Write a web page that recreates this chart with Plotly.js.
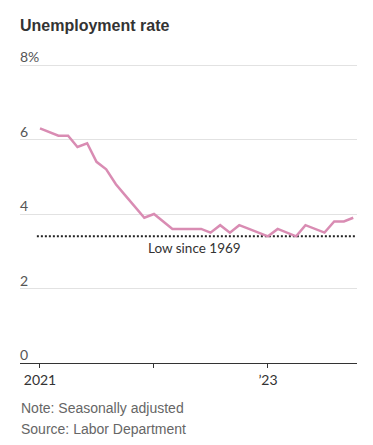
<!DOCTYPE html>
<html>
<head>
<meta charset="utf-8">
<script src="https://cdn.plot.ly/plotly-3.0.1.min.js"></script>
<style>
html,body{margin:0;padding:0;background:#fff;}
#chart{width:373px;height:445px;}
</style>
</head>
<body>
<div id="chart"></div>
<script>
var months = [
  "2021-01-01","2021-02-01","2021-03-01","2021-04-01","2021-05-01","2021-06-01",
  "2021-07-01","2021-08-01","2021-09-01","2021-10-01","2021-11-01","2021-12-01",
  "2022-01-01","2022-02-01","2022-03-01","2022-04-01","2022-05-01","2022-06-01",
  "2022-07-01","2022-08-01","2022-09-01","2022-10-01","2022-11-01","2022-12-01",
  "2023-01-01","2023-02-01","2023-03-01","2023-04-01","2023-05-01","2023-06-01",
  "2023-07-01","2023-08-01","2023-09-01","2023-10-01"
];
var unemploymentRate = [
  6.3, 6.2, 6.1, 6.1, 5.8, 5.9, 5.4, 5.2, 4.8, 4.5, 4.2, 3.9,
  4.0, 3.8, 3.6, 3.6, 3.6, 3.6, 3.5, 3.7, 3.5, 3.7, 3.6, 3.5,
  3.4, 3.6, 3.5, 3.4, 3.7, 3.6, 3.5, 3.8, 3.8, 3.9
];
var lowSince1969 = 3.4;
var lowLineX = ["2020-12-22", "2023-10-08"];
var lowLabel = "Low since 1969";
var lowLabelX = "2022-05-10";
var yTicks = [0, 2, 4, 6, 8];
var yTickLabels = ["0", "2", "4", "6", "8%"];
var xTicks = ["2021-01-01", "2022-01-01", "2023-01-01"];
var xTickLabels = ["2021", "", "\u201923"];

var narrow = "Lato, 'Liberation Sans', sans-serif";
var reg = "'Liberation Sans', Arial, sans-serif";

var traces = [
  {
    x: lowLineX,
    y: [lowSince1969, lowSince1969],
    type: "scatter",
    mode: "lines",
    line: {color: "#222", width: 2, dash: "2px,2px"},
    hoverinfo: "skip"
  },
  {
    x: months,
    y: unemploymentRate,
    type: "scatter",
    mode: "lines",
    line: {color: "#d98cb3", width: 2.5},
    hoverinfo: "skip"
  }
];

var annotations = yTicks.map(function (v, i) {
  return {
    xref: "paper", yref: "y",
    x: 0, y: v,
    xanchor: "left", yanchor: "bottom",
    xshift: -2, yshift: -2,
    text: yTickLabels[i],
    showarrow: false,
    font: {family: narrow, size: 14, color: "#555"}
  };
});

annotations.push(
  {
    x: lowLabelX, y: lowSince1969,
    xref: "x", yref: "y",
    text: lowLabel,
    showarrow: false,
    xanchor: "center", yanchor: "top",
    yshift: -2,
    font: {family: narrow, size: 13.5, color: "#333"}
  },
  {
    xref: "paper", yref: "paper",
    x: 0, y: -(408-363)/313,
    xanchor: "left", yanchor: "middle",
    xshift: -1,
    text: "Note: Seasonally adjusted",
    showarrow: false,
    font: {family: reg, size: 14, color: "#666"}
  },
  {
    xref: "paper", yref: "paper",
    x: 0, y: -(429-363)/313,
    xanchor: "left", yanchor: "middle",
    xshift: -1,
    text: "Source: Labor Department",
    showarrow: false,
    font: {family: reg, size: 14, color: "#666"}
  }
);

var layout = {
  width: 373,
  height: 445,
  margin: {l: 20, r: 16, t: 50, b: 82},
  paper_bgcolor: "#fff",
  plot_bgcolor: "#fff",
  showlegend: false,
  title: {
    text: "<b>Unemployment rate</b>",
    font: {family: reg, size: 16, color: "#333"},
    xref: "container", yref: "container",
    x: 20/373, xanchor: "left",
    y: 1 - 25/445, yanchor: "middle"
  },
  xaxis: {
    type: "date",
    range: ["2020-10-29", "2023-10-13"],
    tickmode: "array",
    tickvals: xTicks,
    ticktext: xTickLabels,
    ticks: "outside",
    ticklen: 4,
    tickwidth: 1,
    tickcolor: "#333",
    showline: true,
    linecolor: "#333",
    linewidth: 1,
    showgrid: false,
    zeroline: false,
    tickfont: {family: narrow, size: 14, color: "#333"}
  },
  yaxis: {
    range: [0, 313 * 8 / 298],
    tickmode: "array",
    tickvals: yTicks,
    showticklabels: false,
    ticks: "",
    showgrid: true,
    gridcolor: "#e2e2e2",
    gridwidth: 1,
    zeroline: false,
    showline: false
  },
  annotations: annotations
};

Plotly.newPlot("chart", traces, layout, {displayModeBar: false, staticPlot: true});
</script>
</body>
</html>
